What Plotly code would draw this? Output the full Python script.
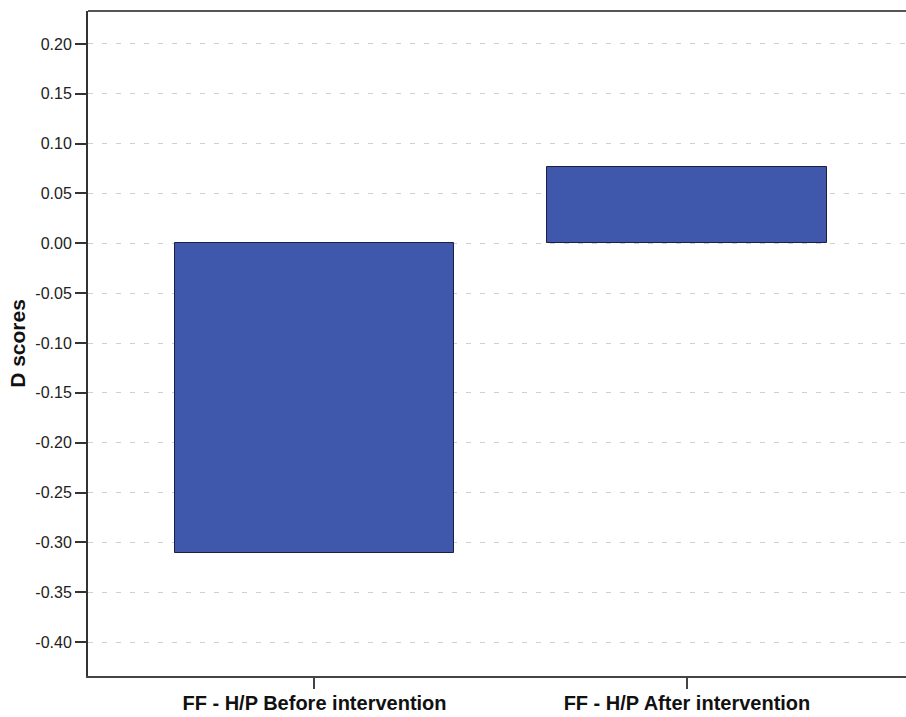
import plotly.graph_objects as go

categories = ["FF - H/P Before intervention", "FF - H/P After intervention"]
d_scores = [-0.311, 0.0765]
y_tick_vals = [0.20, 0.15, 0.10, 0.05, 0.00, -0.05, -0.10, -0.15, -0.20, -0.25, -0.30, -0.35, -0.40]
y_tick_text = ["0.20", "0.15", "0.10", "0.05", "0.00", "-0.05", "-0.10", "-0.15", "-0.20", "-0.25", "-0.30", "-0.35", "-0.40"]

fig = go.Figure()
fig.add_trace(go.Bar(
    x=categories,
    y=d_scores,
    width=0.75,
    marker=dict(color="#3f58ab", line=dict(color="#1b1f45", width=1)),
    hoverinfo="skip",
))

fig.update_layout(
    width=906,
    height=717,
    margin=dict(l=88, r=0, t=11, b=41),
    paper_bgcolor="white",
    plot_bgcolor="white",
    showlegend=False,
    font=dict(family="Liberation Sans, Arial, sans-serif", color="#222"),
    bargap=0,
)

fig.update_xaxes(
    range=[-0.608, 1.588],
    showline=True,
    linecolor="#444",
    linewidth=2,
    ticks="outside",
    ticklen=11,
    tickwidth=1.5,
    tickcolor="#444",
    showgrid=False,
    tickfont=dict(size=20, family="Liberation Sans, Arial, sans-serif", color="#111"),
    tickprefix="<b>",
    ticksuffix="</b>",
    ticklabelstandoff=-3,
    automargin=False,
    fixedrange=True,
)

fig.update_yaxes(
    range=[-0.434, 0.233],
    tickvals=y_tick_vals,
    ticktext=y_tick_text,
    showline=True,
    linecolor="#333",
    linewidth=2,
    ticks="outside",
    ticklen=11,
    tickwidth=2,
    tickcolor="#333",
    showgrid=True,
    gridcolor="#d0d0d0",
    gridwidth=1,
    griddash="5px,9px",
    zeroline=False,
    tickfont=dict(size=16, color="#222"),
    title=dict(text="<b>D scores</b>", font=dict(size=21, color="#111"), standoff=4),
    automargin=False,
    fixedrange=True,
)

fig.add_shape(type="line", xref="paper", yref="paper", x0=0, x1=1, y0=1, y1=1,
              line=dict(color="#555", width=2))

fig.write_html("out.html", config={"displayModeBar": False},
               post_script="document.body.style.margin='0';document.body.style.padding='0';")
